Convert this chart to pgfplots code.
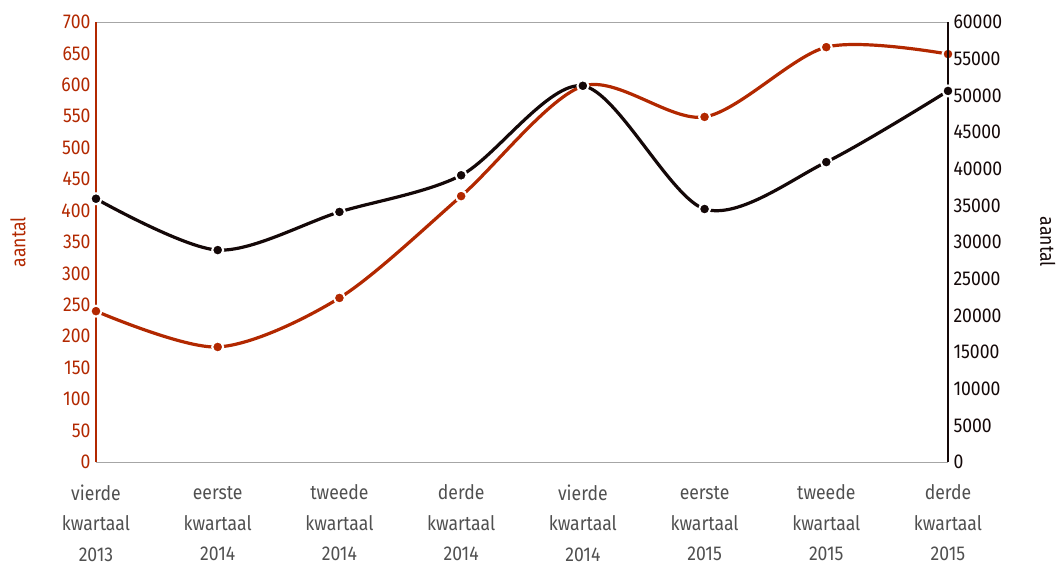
\documentclass[border=0pt]{standalone}
\usepackage{pgfplots}
\pgfplotsset{compat=1.18}
\usepackage{fontspec}
\setmainfont[FakeStretch=0.88]{Fira Sans}
\definecolor{cred}{RGB}{178,40,0}
\definecolor{cblack}{RGB}{20,8,8}
\definecolor{cgray}{RGB}{80,80,80}
\newcommand{\s}{\vphantom{dk}}
\begin{document}
\begin{tikzpicture}
\pgfplotsset{
  common/.style={
    scale only axis, width=852bp, height=440bp,
    xmin=0, xmax=7, clip=false,
    major tick length=0pt,
    tick label style={font=\fontsize{20bp}{30.5bp}\selectfont},
    label style={font=\fontsize{20bp}{30bp}\selectfont},
    /pgf/number format/assume math mode=true,
    /pgf/number format/1000 sep={},
    scaled y ticks=false,
  }
}
\begin{axis}[common,
  ymin=0, ymax=700, ytick={0,50,...,700},
  axis x line*=box, axis y line*=left,
  x axis line style={draw=gray!70, line width=0.8bp},
  y axis line style={draw=cred, line width=2bp},
  yticklabel style={text=cred, xshift=-2bp},
  xtick={0,...,7},
  xticklabels={\s vierde\\kwartaal\\2013, \s eerste\\kwartaal\\2014, \s tweede\\kwartaal\\2014, \s derde\\kwartaal\\2014, \s vierde\\kwartaal\\2014, \s eerste\\kwartaal\\2015, \s tweede\\kwartaal\\2015, \s derde\\kwartaal\\2015},
  xticklabel style={align=center, anchor=north, text=cgray, yshift=-19bp},
  ylabel={aantal},
  ylabel style={at={(axis description cs:-0.0916,0.5)}, anchor=center, text=cred},
]
\addplot[cred, line width=3.2bp, smooth, mark=*, mark size=5.5bp,
  mark options={fill=cred, draw=white, line width=2bp}]
  coordinates {(0,240) (1,183) (2,261) (3,423) (4,598) (5,549) (6,660) (7,649)};
\end{axis}
\begin{axis}[common,
  ymin=0, ymax=60000, ytick={0,5000,...,60000},
  axis x line=none, axis y line*=right, xtick=\empty,
  y axis line style={draw=cblack, line width=2bp},
  yticklabel style={text=cblack, xshift=2bp},
  ylabel={aantal},
  ylabel style={at={(axis description cs:1.117,0.5)}, anchor=center, rotate=180, text=cblack},
]
\addplot[cblack, line width=3.2bp, smooth, mark=*, mark size=5.5bp,
  mark options={fill=cblack, draw=white, line width=2bp}]
  coordinates {(0,35900) (1,28900) (2,34100) (3,39100) (4,51300) (5,34500) (6,40900) (7,50600)};
\end{axis}
\path[use as bounding box] (-96bp,-105bp) rectangle (966bp,462bp);
\end{tikzpicture}
\end{document}
